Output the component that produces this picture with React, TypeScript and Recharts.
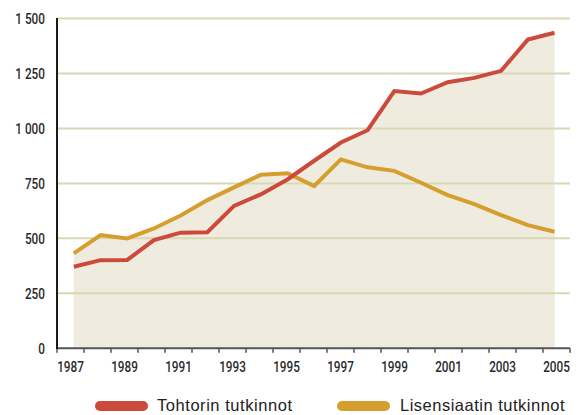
import React from 'react';
import { ComposedChart, Area, Line, XAxis, YAxis, ReferenceLine } from 'recharts';

const years = [1987, 1988, 1989, 1990, 1991, 1992, 1993, 1994, 1995, 1996, 1997, 1998, 1999, 2000, 2001, 2002, 2003, 2004, 2005];
const tohtorin = [371, 401, 402, 492, 526, 528, 648, 700, 768, 853, 936, 992, 1170, 1159, 1210, 1230, 1262, 1404, 1435];
const lisensiaatin = [432, 515, 500, 545, 604, 674, 732, 789, 796, 738, 859, 823, 807, 753, 697, 656, 606, 560, 530];
const yTicks = [0, 250, 500, 750, 1000, 1250, 1500];
const gridValues = [250, 500, 750, 1000, 1250, 1500];
const xLabelYears = [1987, 1989, 1991, 1993, 1995, 1997, 1999, 2001, 2003, 2005];
const seriesNames = ['Tohtorin tutkinnot', 'Lisensiaatin tutkinnot'];

const RED = '#cc4a3b';
const GOLD = '#d69d2f';
const FILL = '#efecdf';
const GRID = '#d9d7b4';
const TICKFONT = "Roboto, 'Liberation Sans', sans-serif";
const SANS = "'Liberation Sans', Arial, sans-serif";
const SQUEEZE = 0.76;

const data = years.map((y, i) => ({ year: y, t: tohtorin[i], l: lisensiaatin[i] }));

const labTicks: number[] = [];
for (let i = 0; i <= years.length; i++) labTicks.push(years[0] - 0.5 + i);
xLabelYears.forEach((y) => labTicks.push(y));
labTicks.sort((a, b) => a - b);

const fmt = (v: number) =>
  v >= 1000 ? `${Math.floor(v / 1000)} ${String(v % 1000).padStart(3, '0')}` : String(v);

const XTick = (props: any) => {
  const { x, y, payload } = props;
  const v = payload.value as number;
  if (!Number.isInteger(v)) {
    return <rect x={x - 0.75} y={y} width={1.5} height={4.5} fill="#555" />;
  }
  return (
    <text
      transform={`translate(${x},${y + 23.5}) scale(${SQUEEZE},1)`}
      textAnchor="middle"
      fill="#2a2a2a"
      fontSize={15.5}
      fontWeight={500}
      fontFamily={TICKFONT}
    >
      {v}
    </text>
  );
};

const YTick = (props: any) => {
  const { x, y, payload } = props;
  return (
    <text
      transform={`translate(${x},${y + 5.5}) scale(${SQUEEZE},1)`}
      textAnchor="end"
      fill="#2a2a2a"
      fontSize={15.5}
      fontWeight={500}
      fontFamily={TICKFONT}
    >
      {fmt(payload.value)}
    </text>
  );
};

export default function App() {
  return (
    <div style={{ position: 'absolute', left: 0, top: 0, width: 581, height: 415, background: '#fff' }}>
      <ComposedChart
        width={581}
        height={415}
        data={data}
        margin={{ top: 18.5, right: 11, bottom: 36.7, left: 0 }}
      >
        <XAxis xAxisId="data" dataKey="year" type="number" domain={[1986.37, 2005.58]} orientation="top" height={0} hide />
        <XAxis
          xAxisId="lab"
          dataKey="year"
          type="number"
          domain={[1986.5, 2005.5]}
          ticks={labTicks}
          interval={0}
          tickLine={false}
          tickSize={0}
          tickMargin={0}
          height={30}
          axisLine={{ stroke: '#555', strokeWidth: 2 }}
          tick={<XTick />}
        />
        <YAxis
          domain={[0, 1500]}
          ticks={yTicks}
          interval={0}
          width={57}
          tickLine={false}
          tickSize={0}
          tickMargin={12}
          axisLine={{ stroke: '#1a1a1a', strokeWidth: 1.5 }}
          tick={<YTick />}
        />
        <Area xAxisId="data" type="linear" dataKey="t" stroke="none" fill={FILL} fillOpacity={1} isAnimationActive={false} />
        <Area xAxisId="data" type="linear" dataKey="l" stroke="none" fill={FILL} fillOpacity={1} isAnimationActive={false} />
        {gridValues.map((v) => (
          <ReferenceLine key={v} xAxisId="lab" y={v} stroke={GRID} strokeWidth={2} />
        ))}
        <Line xAxisId="data" type="linear" dataKey="l" name={seriesNames[1]} stroke={GOLD} strokeWidth={4} dot={false} isAnimationActive={false} />
        <Line xAxisId="data" type="linear" dataKey="t" name={seriesNames[0]} stroke={RED} strokeWidth={4} dot={false} isAnimationActive={false} />
      </ComposedChart>
      <div style={{ position: 'absolute', left: 56, top: 17.5, width: 2, height: 331, background: '#1a1a1a' }} />
      <div style={{ position: 'absolute', left: 95, top: 400.7, width: 53, height: 10, borderRadius: 5, background: RED }} />
      <div style={{ position: 'absolute', left: 157, top: 395, height: 20, lineHeight: '20px', fontSize: 16.5, letterSpacing: 0.55, fontFamily: SANS, color: '#222', whiteSpace: 'nowrap' }}>
        {seriesNames[0]}
      </div>
      <div style={{ position: 'absolute', left: 337, top: 400.7, width: 53, height: 10, borderRadius: 5, background: GOLD }} />
      <div style={{ position: 'absolute', left: 400, top: 395, height: 20, lineHeight: '20px', fontSize: 16.5, letterSpacing: 0.5, fontFamily: SANS, color: '#222', whiteSpace: 'nowrap' }}>
        {seriesNames[1]}
      </div>
    </div>
  );
}
